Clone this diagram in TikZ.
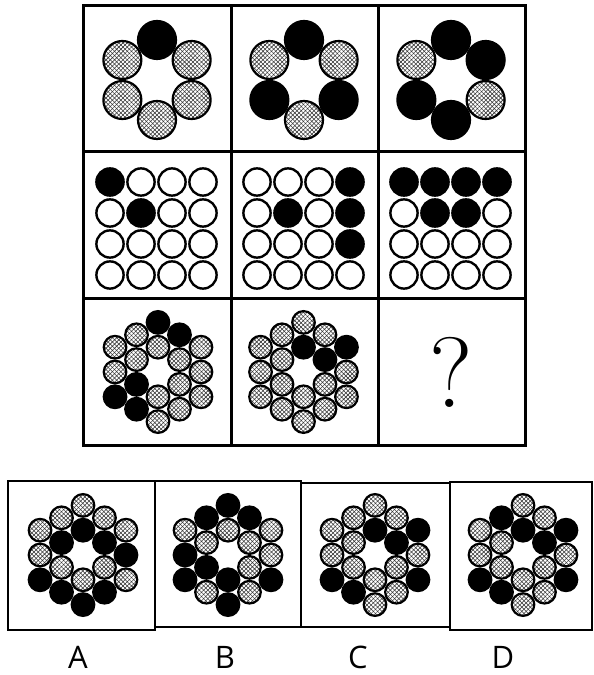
\documentclass[tikz,border=0pt]{standalone}
\usepackage{fontspec}
\setmainfont{Open Sans}
\newfontfamily\qfont{Latin Modern Roman}
\usetikzlibrary{patterns.meta}
\tikzset{
  blk/.style={fill=black,draw=black,line width=2.2pt},
  hat/.style={draw=black,line width=2.2pt,
    preaction={fill=white},
    preaction={pattern={Lines[angle=45,distance=3pt,line width=0.55pt]},pattern color=black!80},
    pattern={Lines[angle=-45,distance=3pt,line width=0.55pt]},pattern color=black!80},
  wht/.style={fill=white,draw=black,line width=2.4pt},
  blkw/.style={fill=black,draw=black,line width=2.4pt},
  gridline/.style={line width=3pt,line cap=rect},
  optframe/.style={line width=2pt},
  lbl/.style={font=\fontsize{31}{31}\selectfont,inner sep=0pt}
}
\newcommand\sixring[2]{%
  \begin{scope}[shift={#1}]
    \foreach \a/\s in {#2} \path[\s] (\a:40pt) circle (19pt);
  \end{scope}}
\newcommand\hexfig[4]{%
  \begin{scope}[shift={#1}]
    \foreach \a/\s in {#2} \path[\s] (\a:24.8pt) circle (11.3pt);
    \foreach \a/\s in {#3} \path[\s] (\a:49.6pt) circle (11.3pt);
    \foreach \a/\s in {#4} \path[\s] (\a:42.95pt) circle (11.3pt);
  \end{scope}}
\newcommand\sqgrid[2]{%
  \begin{scope}[shift={#1}]
    \foreach \r/\c/\s in {#2} \path[\s] ({-46.5+31*(\c-1)},{46.5-31*(\r-1)}) circle (13.6pt);
  \end{scope}}
\begin{document}
\begin{tikzpicture}[x=1pt,y=1pt]
\useasboundingbox[fill=white] (0,0) rectangle (594,675);

% ---- row 1
\sixring{(157,595)}{90/blk,30/hat,-30/hat,-90/hat,-150/hat,150/hat}
\sixring{(304,595)}{90/blk,30/hat,-30/blk,-90/hat,-150/blk,150/hat}
\sixring{(451,595)}{90/blk,30/blk,-30/hat,-90/blk,-150/blk,150/hat}

% ---- row 2
\sqgrid{(156.5,446.5)}{1/1/blkw,1/2/wht,1/3/wht,1/4/wht,2/1/wht,2/2/blkw,2/3/wht,2/4/wht,3/1/wht,3/2/wht,3/3/wht,3/4/wht,4/1/wht,4/2/wht,4/3/wht,4/4/wht}
\sqgrid{(303.5,446.5)}{1/1/wht,1/2/wht,1/3/wht,1/4/blkw,2/1/wht,2/2/blkw,2/3/wht,2/4/blkw,3/1/wht,3/2/wht,3/3/wht,3/4/blkw,4/1/wht,4/2/wht,4/3/wht,4/4/wht}
\sqgrid{(450.5,446.5)}{1/1/blkw,1/2/blkw,1/3/blkw,1/4/blkw,2/1/wht,2/2/blkw,2/3/blkw,2/4/wht,3/1/wht,3/2/wht,3/3/wht,3/4/wht,4/1/wht,4/2/wht,4/3/wht,4/4/wht}

% ---- row 3
\hexfig{(158,303)}{90/hat,30/hat,-30/hat,-90/hat,-150/blk,150/hat}{90/blk,30/hat,-30/hat,-90/hat,-150/blk,150/hat}{60/blk,0/hat,-60/hat,-120/blk,180/hat,120/hat}
\hexfig{(303.5,303)}{90/blk,30/blk,-30/hat,-90/hat,-150/hat,150/hat}{90/hat,30/blk,-30/hat,-90/hat,-150/hat,150/hat}{60/hat,0/hat,-60/hat,-120/hat,180/hat,120/hat}
\node[font=\qfont\fontsize{100}{100}\selectfont,inner sep=0pt] (q) at (451,303) {?};

% ---- grid lines
\draw[gridline] (83,669) rectangle (525,229);
\draw[gridline] (231,669) -- (231,229) (378,669) -- (378,229);
\draw[gridline] (83,523) -- (525,523) (83,376) -- (525,376);

% ---- options
\hexfig{(83,120)}{90/blk,150/blk,30/blk,-150/hat,-30/hat,-90/hat}{90/hat,30/hat,150/hat,-150/blk,-30/hat,-90/blk}{120/hat,60/hat,180/hat,0/blk,-120/blk,-60/blk}
\hexfig{(228,120)}{90/hat,150/hat,30/hat,-150/blk,-30/hat,-90/blk}{90/blk,150/hat,30/hat,-150/blk,-30/blk,-90/blk}{120/blk,60/blk,180/blk,0/hat,-120/hat,-60/hat}
\hexfig{(375,120)}{90/blk,150/hat,30/blk,-150/hat,-30/hat,-90/hat}{90/hat,150/hat,30/blk,-150/blk,-30/blk,-90/hat}{120/hat,60/hat,180/hat,0/hat,-120/blk,-60/hat}
\hexfig{(523,120)}{90/blk,150/hat,30/blk,-150/hat,-30/hat,-90/hat}{90/hat,150/hat,30/blk,-150/blk,-30/blk,-90/hat}{120/blk,60/hat,180/hat,0/hat,-120/blk,-60/hat}

\draw[optframe] (8,194) rectangle (155,45);
\draw[optframe] (155,194) rectangle (301,48);
\draw[optframe] (301,192) rectangle (450,48);
\draw[optframe] (450,193) rectangle (592,45);

\node[lbl] (la) at (78,18) {A};
\node[lbl] (lb) at (225,18) {B};
\node[lbl] (lc) at (358,18) {C};
\node[lbl] (ld) at (503,18) {D};
\end{tikzpicture}
\end{document}
